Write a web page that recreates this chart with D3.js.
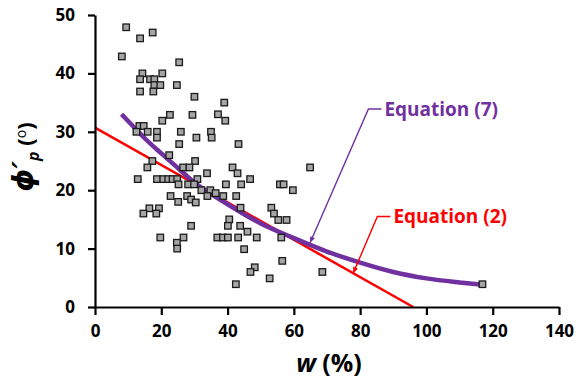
<!DOCTYPE html>
<html>
<head>
<meta charset="utf-8">
<script src="https://cdn.jsdelivr.net/npm/d3@7/dist/d3.min.js"></script>
<style>
  html, body { margin: 0; padding: 0; background: #fff; }
  svg { display: block; }
  text { font-family: "Open Sans", "Lato", sans-serif; font-weight: 700; }
</style>
</head>
<body>
<svg id="chart" width="579" height="378"></svg>
<script>
// ---- data ----
const obsW = [9.4,13.6,17.4,8.1,25.4,14.3,20.3,13.6,16.6,17.9,17.9,19.7,24.7,13.6,17.6,30.0,39.0,22.6,29.4,37.1,
  20.3,39.3,13.4,14.7,12.5,15.9,18.7,25.9,35.0,18.7,30.6,35.2,25.4,43.3,22.4,17.3,30.2,15.8,26.6,28.5,
  41.5,64.9,33.8,43.0,46.8,12.9,18.7,20.6,22.1,23.4,24.8,30.9,25.2,28.1,29.9,39.5,44.1,55.8,56.9,32.1,
  34.8,36.4,59.7,22.8,27.8,33.9,38.7,42.6,29.0,25.1,30.4,16.4,19.3,43.9,53.2,14.6,18.5,54.0,40.5,55.3,
  57.8,29.0,40.1,43.8,46.0,19.7,26.7,36.9,38.6,40.1,43.2,48.8,56.2,24.7,24.8,45.0,56.5,48.2,46.9,68.6,
  52.7,42.5,116.9];
const obsPhi = [47.9,46.0,47.0,42.9,41.9,40.0,40.0,39.0,39.0,39.0,38.0,38.0,38.0,36.9,36.9,36.0,35.0,32.9,32.9,33.0,
  31.9,31.9,31.0,31.0,30.0,30.0,30.0,30.0,30.0,29.0,29.0,29.0,27.9,27.9,26.0,25.0,25.0,23.9,23.9,23.9,
  23.9,23.9,22.9,22.9,21.9,21.9,21.9,21.9,21.9,21.9,21.9,21.9,21.0,21.0,21.0,21.0,21.0,21.0,21.0,20.0,
  20.0,19.5,20.0,19.0,19.0,19.0,19.0,19.0,18.4,18.0,17.9,16.9,16.9,17.0,17.0,16.0,16.0,16.0,15.0,14.9,
  14.9,13.9,13.9,13.9,12.9,11.9,11.9,11.9,11.9,11.9,11.9,11.9,11.9,11.0,10.0,9.9,7.9,6.8,6.0,6.0,
  4.9,3.9,3.9];

// Equation (2): straight line
const eq2W = [0, 96];
const eq2Phi = [30.7, 0];

// Equation (7): curve read along its path
const eq7W = [8, 12.6, 15, 20, 25, 30, 40, 50, 60, 70, 80, 90, 100, 110, 117];
const eq7Phi = [33.0, 30.3, 28.9, 26.3, 23.8, 21.3, 17.6, 14.3, 11.8, 9.5, 7.6, 6.0, 4.9, 4.2, 3.8];

const xTicks = [0, 20, 40, 60, 80, 100, 120, 140];
const yTicks = [0, 10, 20, 30, 40, 50];

// annotation anchors (data coordinates): tip on the line, elbow
const annWTip = [64.9, 77.9];
const annPhiTip = [11.0, 5.8];
const annWElbow = [82.5, 85.2];
const annPhiElbow = [33.9, 15.5];
const annLabels = ["Equation (7)", "Equation (2)"];
const annColors = ["#7030A0", "#FF0000"];

// ---- chart ----
const svg = d3.select("#chart");
const x = d3.scaleLinear().domain([0, 140]).range([95, 559]);
const y = d3.scaleLinear().domain([0, 50]).range([307, 15]);

// lines
const line = d3.line().x(d => x(d[0])).y(d => y(d[1]));
svg.append("path")
  .attr("d", line(d3.zip(eq2W, eq2Phi)))
  .attr("fill", "none").attr("stroke", "#FF0000").attr("stroke-width", 2.5);
svg.append("path")
  .attr("d", line.curve(d3.curveMonotoneX)(d3.zip(eq7W, eq7Phi)))
  .attr("fill", "none").attr("stroke", "#7030A0").attr("stroke-width", 4.5)
  .attr("stroke-linecap", "butt");

// points
const s = 6.5;
svg.append("g").selectAll("rect")
  .data(d3.zip(obsW, obsPhi))
  .join("rect")
  .attr("x", d => x(d[0]) - s / 2)
  .attr("y", d => y(d[1]) - s / 2)
  .attr("width", s).attr("height", s)
  .attr("fill", "#a5a5a5")
  .attr("stroke", "#1a1a1a").attr("stroke-width", 1.3);

// axes
const xAxis = svg.append("g").attr("transform", `translate(0,${y(0)})`)
  .call(d3.axisBottom(x).tickValues(xTicks).tickSize(8).tickSizeOuter(0).tickPadding(10));
const yAxis = svg.append("g").attr("transform", `translate(${x(0)},0)`)
  .call(d3.axisLeft(y).tickValues(yTicks).tickSize(7).tickSizeOuter(0).tickPadding(13));
[xAxis, yAxis].forEach(g => {
  g.select(".domain").attr("stroke", "#000").attr("stroke-width", 2.2);
  g.selectAll(".tick line").attr("stroke", "#000").attr("stroke-width", 2.2);
  g.selectAll(".tick text")
    .attr("fill", "#000")
    .style("font-family", "'Open Sans', sans-serif")
    .style("font-weight", "700")
    .style("font-size", "17px");
});

// axis titles
const xt = svg.append("text")
  .attr("x", (x(0) + x(140)) / 2 + 2)
  .attr("y", 372)
  .attr("text-anchor", "middle")
  .style("font-size", "25px")
  .attr("fill", "#000");
xt.append("tspan").style("font-style", "italic").text("w");
xt.append("tspan").text(" (%)");

const yt = svg.append("text")
  .attr("transform", `translate(33,${(y(0) + y(50)) / 2 - 4}) rotate(-90)`)
  .attr("text-anchor", "middle")
  .style("font-size", "22px")
  .attr("fill", "#000");
yt.append("tspan").style("font-style", "italic").style("font-family", "'DejaVu Sans', sans-serif")
  .style("font-size", "29px").text("\u03D5\u2032");
yt.append("tspan").style("font-style", "italic").style("font-size", "16px").attr("dy", 6).text("p");
yt.append("tspan").attr("dy", -6).text(" (");
yt.append("tspan").style("font-size", "14px").attr("dy", -7).style("font-weight", "400").text("o");
yt.append("tspan").attr("dy", 7).text(")");

// annotations
annLabels.forEach((lab, i) => {
  const tipX = x(annWTip[i]), tipY = y(annPhiTip[i]);
  const elX = x(annWElbow[i]), elY = y(annPhiElbow[i]);
  const c = annColors[i];
  svg.append("path")
    .attr("d", `M${elX + 13},${elY} L${elX},${elY} L${tipX},${tipY}`)
    .attr("fill", "none").attr("stroke", c).attr("stroke-width", 1.4);
  const ang = Math.atan2(tipY - elY, tipX - elX);
  const L = 6, W = 2.6;
  const bx = tipX - L * Math.cos(ang), by = tipY - L * Math.sin(ang);
  svg.append("path")
    .attr("d", `M${tipX},${tipY} L${bx + W * Math.sin(ang)},${by - W * Math.cos(ang)} L${bx - W * Math.sin(ang)},${by + W * Math.cos(ang)} Z`)
    .attr("fill", c);
  svg.append("text")
    .attr("x", elX + 16).attr("y", elY)
    .attr("dy", "0.35em")
    .style("font-size", "19px")
    .attr("fill", c)
    .text(lab);
});
</script>
</body>
</html>
